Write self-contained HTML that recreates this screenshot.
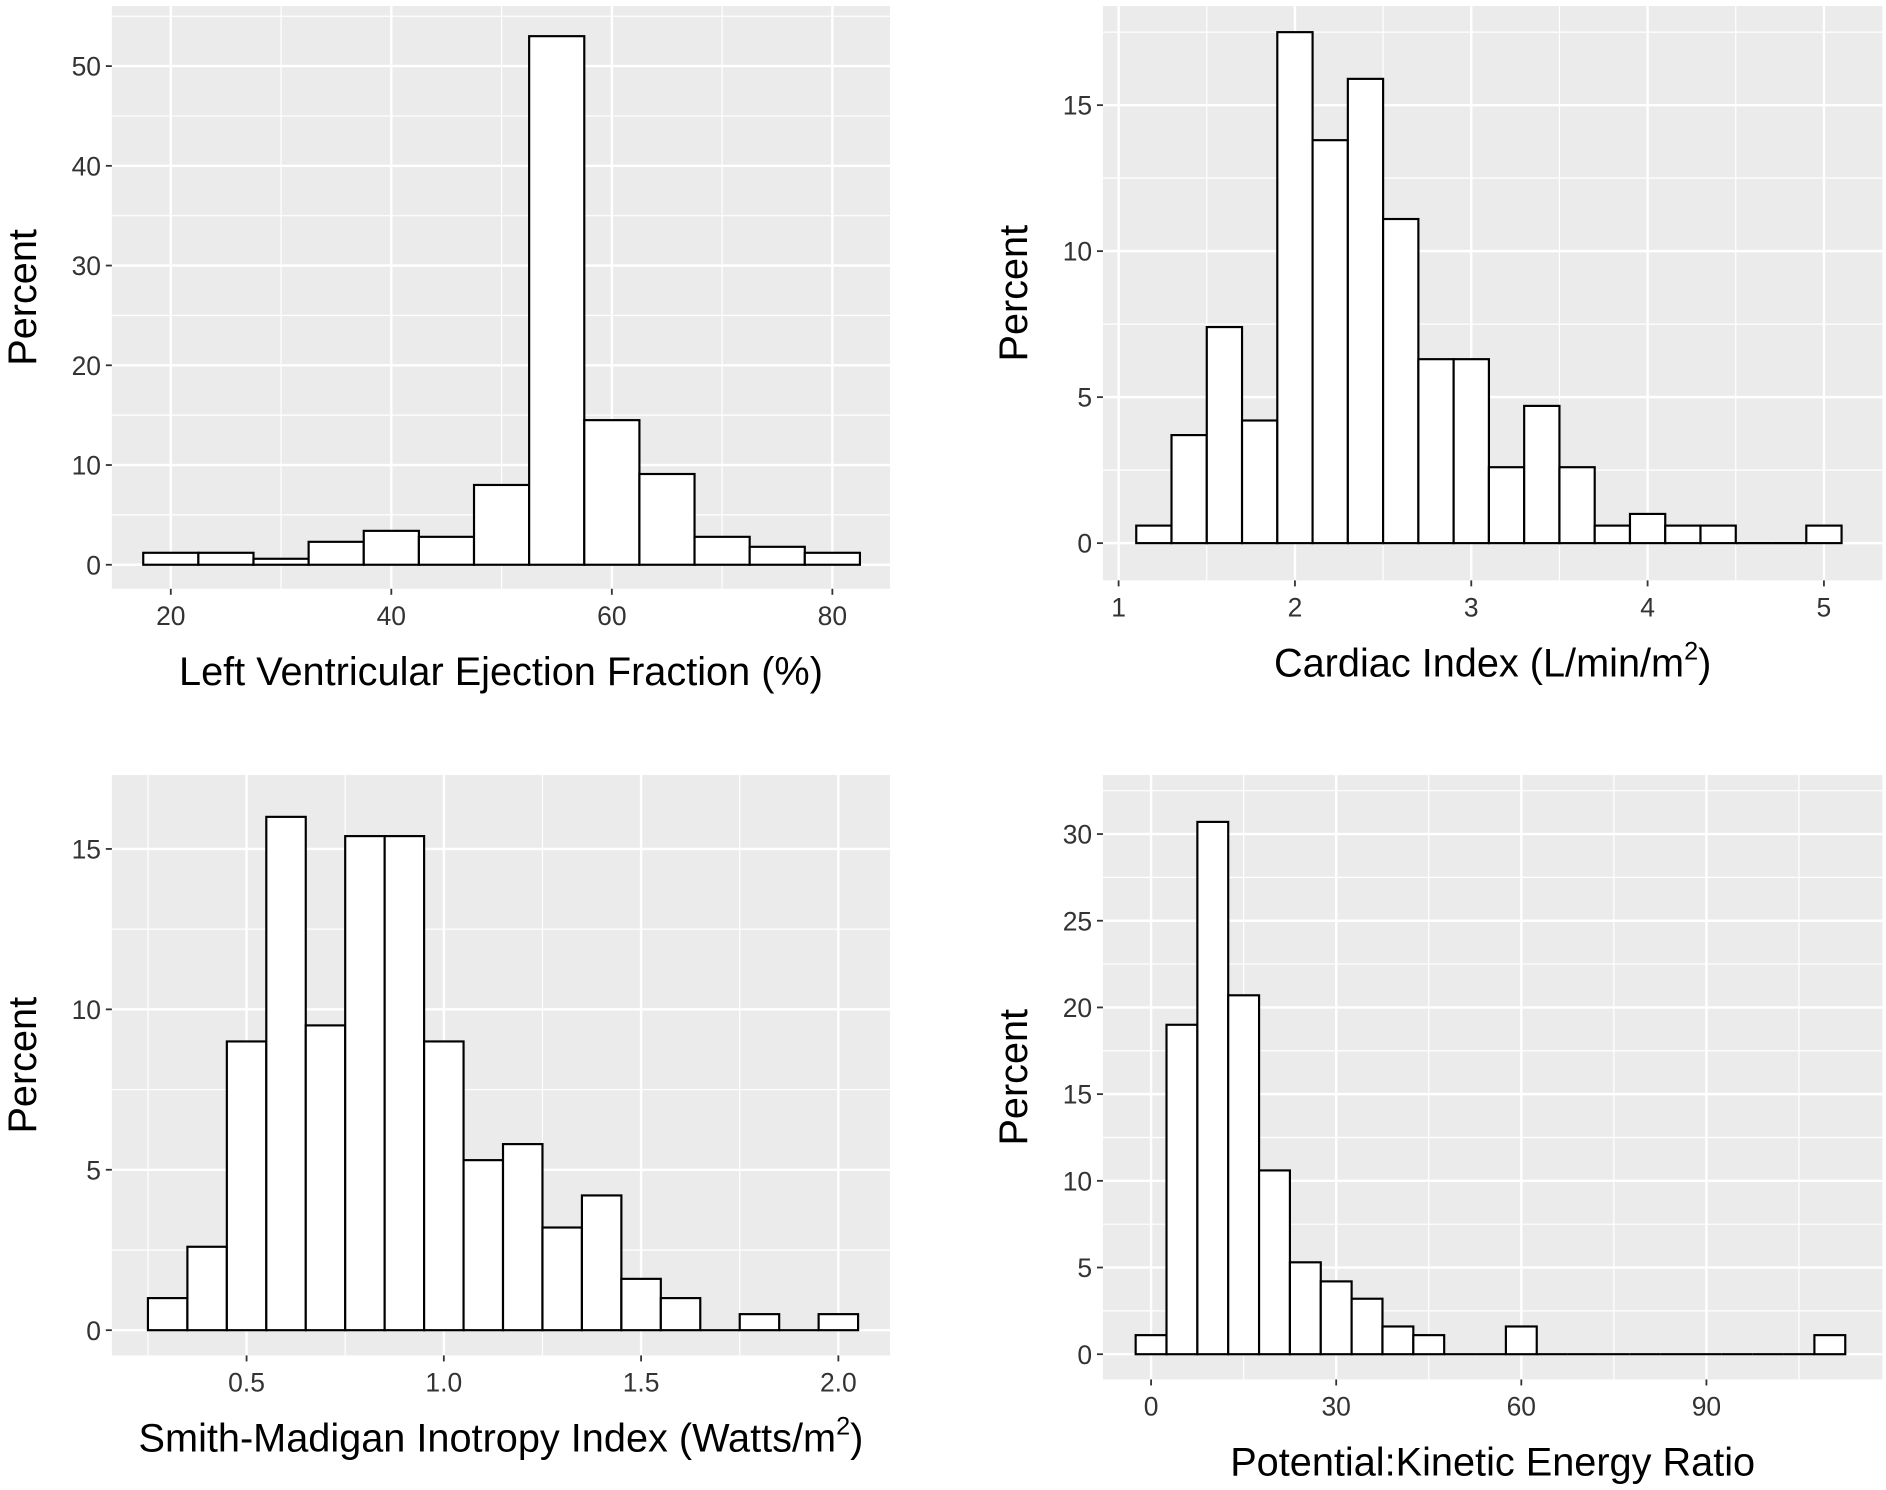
<!DOCTYPE html>
<html><head><meta charset="utf-8">
<style>
html,body{margin:0;padding:0;background:#fff;}
svg{display:block;}
text{font-family:"Liberation Sans",Arial,sans-serif;}
</style></head>
<body>
<svg id="s" width="1886" height="1490" viewBox="0 0 1568 1240" preserveAspectRatio="none" xmlns="http://www.w3.org/2000/svg"></svg>
<script>
const svg=document.getElementById('s');
let h='';
function panel(p){
  const {x0,x1,y0,y1,xmap,ymap,xt,xlab,yt,bins,bw,title,sup,ytitleX}=p;
  h+=`<rect x="${x0}" y="${y0}" width="${x1-x0}" height="${y1-y0}" fill="#ebebeb"/>`;
  for(let i=0;i<yt.length-1;i++){const m=(ymap(yt[i])+ymap(yt[i+1]))/2;h+=`<line x1="${x0}" x2="${x1}" y1="${m}" y2="${m}" stroke="#fff" stroke-width="1"/>`;}
  {const d=ymap(yt[1])-ymap(yt[0]);let m=ymap(yt[yt.length-1])+d/2;if(m>y0)h+=`<line x1="${x0}" x2="${x1}" y1="${m}" y2="${m}" stroke="#fff" stroke-width="1"/>`;m=ymap(yt[0])-d/2;if(m<y1)h+=`<line x1="${x0}" x2="${x1}" y1="${m}" y2="${m}" stroke="#fff" stroke-width="1"/>`;}
  const dx=xmap(xt[1])-xmap(xt[0]);
  for(let i=-1;i<xt.length;i++){const m=xmap(xt[0])+dx*(i+0.5);if(m>x0&&m<x1)h+=`<line y1="${y0}" y2="${y1}" x1="${m}" x2="${m}" stroke="#fff" stroke-width="1"/>`;}
  yt.forEach(v=>{const y=ymap(v);h+=`<line x1="${x0}" x2="${x1}" y1="${y}" y2="${y}" stroke="#fff" stroke-width="2"/><line x1="${x0-5}" x2="${x0}" y1="${y}" y2="${y}" stroke="#333" stroke-width="1.5"/><text x="${x0-9}" y="${y+8}" font-size="22" fill="#333" text-anchor="end">${v}</text>`;});
  xt.forEach((v,i)=>{const x=xmap(v);h+=`<line y1="${y0}" y2="${y1}" x1="${x}" x2="${x}" stroke="#fff" stroke-width="2"/><line y1="${y1}" y2="${y1+5}" x1="${x}" x2="${x}" stroke="#333" stroke-width="1.5"/><text x="${x}" y="${y1+30}" font-size="22" fill="#333" text-anchor="middle">${xlab[i]}</text>`;});
  bins.forEach(([c,v])=>{const a=xmap(c-bw/2),b=xmap(c+bw/2),y=ymap(v),z=ymap(0);
    if(v<=0)h+=`<line x1="${a}" x2="${b}" y1="${z}" y2="${z}" stroke="#000" stroke-width="1.8"/>`;
    else h+=`<rect x="${a}" y="${y}" width="${b-a}" height="${z-y}" fill="#fff" stroke="#000" stroke-width="1.8"/>`;});
  const cx=(x0+x1)/2;
  h+=`<text x="${cx}" y="${y1+80}" font-size="33" fill="#000" text-anchor="middle">${title}${sup?'<tspan font-size="21" dy="-14">2</tspan><tspan dy="14">)</tspan>':''}</text>`;
  const cy=(y0+y1)/2;
  h+=`<text transform="translate(${ytitleX},${cy}) rotate(-90)" font-size="33" fill="#000" text-anchor="middle">Percent</text>`;
}
panel({x0:93,x1:740,y0:5,y1:490,xmap:v=>142+(v-20)*9.167,ymap:v=>470-v*8.3,xt:[20,40,60,80],xlab:['20','40','60','80'],yt:[0,10,20,30,40,50],bw:5,
 bins:[[20,1.2],[25,1.2],[30,0.6],[35,2.3],[40,3.4],[45,2.8],[50,8],[55,53],[60,14.5],[65,9.1],[70,2.8],[75,1.8],[80,1.2]],title:'Left Ventricular Ejection Fraction (%)',ytitleX:30});
panel({x0:917,x1:1565,y0:5,y1:483,xmap:v=>930+(v-1)*146.6,ymap:v=>452-v*24.3,xt:[1,2,3,4,5],xlab:['1','2','3','4','5'],yt:[0,5,10,15],bw:0.2,
 bins:[[1.2,0.6],[1.4,3.7],[1.6,7.4],[1.8,4.2],[2.0,17.5],[2.2,13.8],[2.4,15.9],[2.6,11.1],[2.8,6.3],[3.0,6.3],[3.2,2.6],[3.4,4.7],[3.6,2.6],[3.8,0.6],[4.0,1.0],[4.2,0.6],[4.4,0.6],[4.6,0],[4.8,0],[5.0,0.6]],title:'Cardiac Index (L/min/m',sup:true,ytitleX:854});
panel({x0:93,x1:740,y0:645,y1:1128,xmap:v=>205+(v-0.5)*328,ymap:v=>1107-v*26.7,xt:[0.5,1.0,1.5,2.0],xlab:['0.5','1.0','1.5','2.0'],yt:[0,5,10,15],bw:0.1,
 bins:[[0.3,1.0],[0.4,2.6],[0.5,9.0],[0.6,16.0],[0.7,9.5],[0.8,15.4],[0.9,15.4],[1.0,9.0],[1.1,5.3],[1.2,5.8],[1.3,3.2],[1.4,4.2],[1.5,1.6],[1.6,1.0],[1.7,0],[1.8,0.5],[1.9,0],[2.0,0.5]],title:'Smith-Madigan Inotropy Index (Watts/m',sup:true,ytitleX:30});
const b4=[[0,1.1],[5,19],[10,30.7],[15,20.7],[20,10.6],[25,5.3],[30,4.2],[35,3.2],[40,1.6],[45,1.1]];
for(let c=50;c<=105;c+=5)b4.push([c,c==60?1.6:0]);b4.push([110,1.1]);
panel({x0:917,x1:1565,y0:645,y1:1148,xmap:v=>957+v*5.13,ymap:v=>1127-v*14.43,xt:[0,30,60,90],xlab:['0','30','60','90'],yt:[0,5,10,15,20,25,30],bw:5,
 bins:b4,title:'Potential:Kinetic Energy Ratio',ytitleX:854});
svg.innerHTML=h;
</script>
</body></html>
